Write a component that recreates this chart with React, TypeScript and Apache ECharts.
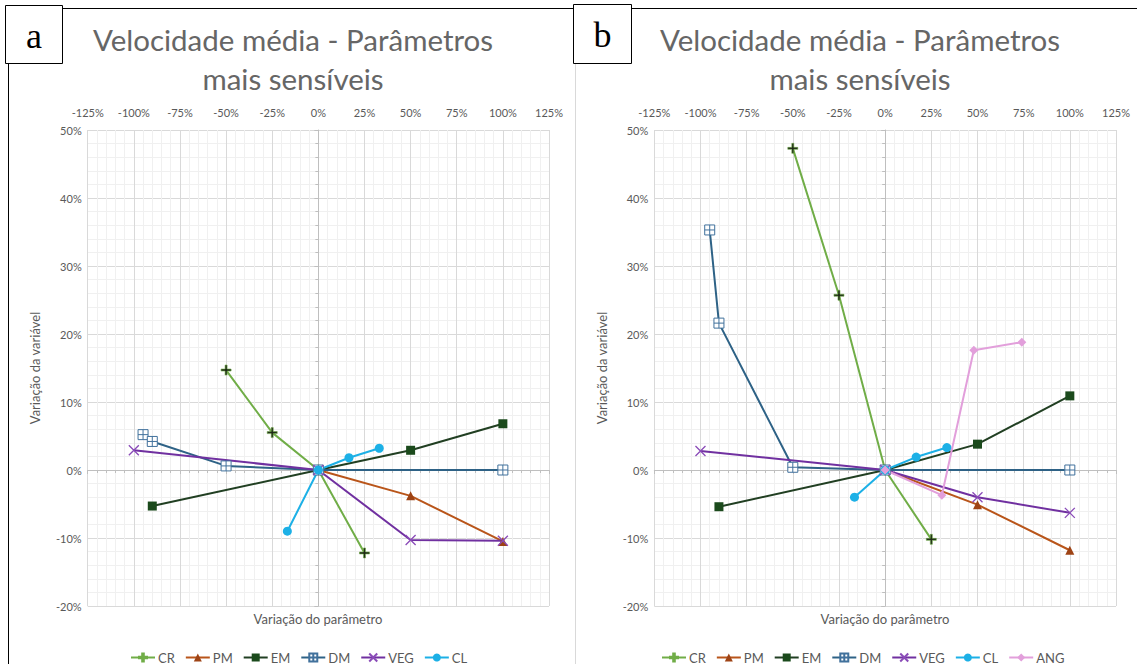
import React, { useEffect, useRef } from "react";
import * as echarts from "echarts";

// ---- data (values in %) ----
const X_MIN = -125, X_MAX = 125, X_INT = 25;
const Y_MIN = -20, Y_MAX = 50, Y_INT = 10;

const legendA = ["CR", "PM", "EM", "DM", "VEG", "CL"];
const legendB = ["CR", "PM", "EM", "DM", "VEG", "CL", "ANG"];

const crA = [[-50, 14.7], [-25, 5.5], [0, 0], [25, -12.2]];
const pmA = [[0, 0], [50, -3.8], [100, -10.5]];
const emA = [[-90, -5.3], [0, 0], [50, 2.9], [100, 6.8]];
const dmA = [[-95, 5.2], [-90, 4.2], [-50, 0.6], [0, 0], [100, 0]];
const vegA = [[-100, 2.9], [0, 0], [50, -10.3], [100, -10.4]];
const clA = [[-16.8, -9.0], [0, 0], [16.6, 1.8], [33, 3.2]];

const crB = [[-50, 47.3], [-25, 25.7], [0, 0], [25, -10.2]];
const pmB = [[0, 0], [50, -5.1], [100, -11.8]];
const emB = [[-90, -5.4], [0, 0], [50, 3.8], [100, 10.9]];
const dmB = [[-95, 35.3], [-90, 21.6], [-50, 0.4], [0, 0], [100, 0]];
const vegB = [[-100, 2.8], [0, 0], [50, -4.0], [100, -6.3]];
const clB = [[-16.6, -4.0], [0, 0], [16.8, 1.9], [33.4, 3.3]];
const angB = [[0, 0], [30.7, -3.7], [48, 17.6], [74, 18.8]];

const titleLine1 = "Velocidade média - Parâmetros";
const titleLine2 = "mais sensíveis";
const xName = "Variação do parâmetro";
const yName = "Variação da variável";

const FONT = "Lato";
const GRAY = "#595959";

const STYLES: Record<string, any> = {
  CR: {
    line: "#70AD47",
    symbol: "path://M4 0H6V4H10V6H6V10H4V6H0V4H4Z",
    size: 10,
    item: { color: "#1f2a18", borderColor: "#70AD47", borderWidth: 0.6 },
  },
  PM: {
    line: "#B9551A",
    symbol: "triangle",
    size: 9,
    item: { color: "#9E4315" },
  },
  EM: {
    line: "#213F22",
    symbol: "rect",
    size: 9,
    item: { color: "#1B4A1C" },
  },
  DM: {
    line: "#2E6286",
    symbol: "path://M0 0H10V10H0ZM5 0V10M0 5H10",
    size: 10,
    item: { color: "#ffffff", borderColor: "#41719C", borderWidth: 1 },
  },
  VEG: {
    line: "#7030A0",
    symbol: "path://M0 0L10 10M10 0L0 10",
    size: 10,
    item: { color: "rgba(0,0,0,0)", borderColor: "#8A4BB8", borderWidth: 1.3 },
  },
  CL: {
    line: "#1CB0E6",
    symbol: "circle",
    size: 9,
    item: { color: "#1CB0E6" },
  },
  ANG: {
    line: "#E29FDB",
    symbol: "diamond",
    size: 9,
    item: { color: "#E29FDB" },
  },
};

function makeSeries(name: string, data: number[][], panel: number) {
  const s = STYLES[name];
  return {
    type: "line",
    name,
    data,
    xAxisIndex: panel * 2,
    yAxisIndex: panel * 2,
    symbol: s.symbol,
    symbolSize: s.size,
    symbolKeepAspect: true,
    showAllSymbol: true,
    lineStyle: { color: s.line, width: 2 },
    itemStyle: s.item,
    emphasis: { disabled: true },
    z: 5,
  };
}

function axesFor(panel: number) {
  const labelStyle = { color: GRAY, fontFamily: FONT, fontSize: 11 };
  const xLabel = {
    type: "value",
    gridIndex: panel,
    min: X_MIN,
    max: X_MAX,
    interval: X_INT,
    position: "top",
    axisLine: { show: false, onZero: false },
    axisTick: { show: false },
    axisLabel: { ...labelStyle, formatter: "{value}%", margin: 12 },
    splitLine: { show: true, lineStyle: { color: "#D9D9D9", width: 1 } },
    minorTick: { show: false, splitNumber: 5 },
    minorSplitLine: { show: true, lineStyle: { color: "#F0F0F0", width: 1 } },
  };
  const xZero = {
    type: "value",
    gridIndex: panel,
    min: X_MIN,
    max: X_MAX,
    interval: X_INT,
    position: "bottom",
    axisLine: { show: true, onZero: true, lineStyle: { color: "#BFBFBF", width: 1 } },
    axisTick: { show: true, length: 4, lineStyle: { color: "#BFBFBF" } },
    minorTick: { show: true, splitNumber: 5, length: 3, lineStyle: { color: "#BFBFBF" } },
    axisLabel: { show: false },
    splitLine: { show: false },
  };
  const yLabel = {
    type: "value",
    gridIndex: panel,
    min: Y_MIN,
    max: Y_MAX,
    interval: Y_INT,
    position: "left",
    axisLine: { show: false, onZero: false },
    axisTick: { show: false },
    axisLabel: { ...labelStyle, formatter: "{value}%", margin: 6 },
    splitLine: { show: true, lineStyle: { color: "#D9D9D9", width: 1 } },
    minorTick: { show: false, splitNumber: 5 },
    minorSplitLine: { show: true, lineStyle: { color: "#F0F0F0", width: 1 } },
    name: yName,
    nameLocation: "middle",
    nameGap: 46,
    nameTextStyle: { color: GRAY, fontFamily: FONT, fontSize: 13 },
  };
  const yZero = {
    type: "value",
    gridIndex: panel,
    min: Y_MIN,
    max: Y_MAX,
    interval: Y_INT,
    position: "left",
    axisLine: { show: true, onZero: true, lineStyle: { color: "#BFBFBF", width: 1 } },
    axisTick: { show: true, length: 4, lineStyle: { color: "#BFBFBF" } },
    minorTick: { show: true, splitNumber: 5, length: 3, lineStyle: { color: "#BFBFBF" } },
    axisLabel: { show: false },
    splitLine: { show: false },
  };
  return { x: [xLabel, xZero], y: [yLabel, yZero] };
}

function titleTexts(cx: number) {
  const st = { fill: "#666666", fontFamily: FONT, fontSize: 29.5, align: "center", verticalAlign: "middle" };
  return [
    { type: "text", x: cx, y: 39, style: { ...st, text: titleLine1 } },
    { type: "text", x: cx, y: 78, style: { ...st, text: titleLine2 } },
  ];
}

function letterBox(x: number, y: number, w: number, h: number, letter: string) {
  return [
    {
      type: "rect",
      shape: { x, y, width: w, height: h },
      style: { fill: "#ffffff", stroke: "#000000", lineWidth: 1 },
      z: 20,
    },
    {
      type: "text",
      x: x + w / 2,
      y: y + h / 2 + 1,
      style: {
        text: letter,
        fill: "#000000",
        fontFamily: "Liberation Serif",
        fontSize: 36,
        align: "center",
        verticalAlign: "middle",
      },
      z: 21,
    },
  ];
}

export default function App() {
  const ref = useRef<HTMLDivElement>(null);

  useEffect(() => {
    if (!ref.current) return;
    const chart = echarts.init(ref.current, undefined, { renderer: "svg" });
    const a = axesFor(0);
    const b = axesFor(1);

    const seriesA = [
      makeSeries("CR", crA, 0),
      makeSeries("PM", pmA, 0),
      makeSeries("EM", emA, 0),
      makeSeries("DM", dmA, 0),
      makeSeries("VEG", vegA, 0),
      makeSeries("CL", clA, 0),
    ];
    const seriesB = [
      makeSeries("CR", crB, 1),
      makeSeries("PM", pmB, 1),
      makeSeries("EM", emB, 1),
      makeSeries("DM", dmB, 1),
      makeSeries("VEG", vegB, 1),
      makeSeries("CL", clB, 1),
      makeSeries("ANG", angB, 1),
    ];

    const legendCommon = {
      orient: "horizontal",
      top: 651,
      padding: 0,
      itemWidth: 24,
      itemHeight: 10,
      itemGap: 10,
      selectedMode: false,
      textStyle: { color: GRAY, fontFamily: FONT, fontSize: 13, padding: [0, 0, 0, -2] },
    };

    chart.setOption({
      animation: false,
      backgroundColor: "#ffffff",
      grid: [
        { left: 87.7, top: 130, width: 461.3, height: 476, containLabel: false },
        { left: 654.3, top: 130, width: 461.7, height: 476, containLabel: false },
      ],
      xAxis: [...a.x, ...b.x],
      yAxis: [...a.y, ...b.y],
      legend: [
        { ...legendCommon, data: legendA, left: 130 },
        { ...legendCommon, data: legendB, left: 661 },
      ],
      series: [...seriesA, ...seriesB],
      graphic: [
        ...titleTexts(293),
        ...titleTexts(860),
        {
          type: "text",
          x: 318,
          y: 619,
          style: { text: xName, fill: GRAY, fontFamily: FONT, fontSize: 13, align: "center", verticalAlign: "middle" },
        },
        {
          type: "text",
          x: 885,
          y: 619,
          style: { text: xName, fill: GRAY, fontFamily: FONT, fontSize: 13, align: "center", verticalAlign: "middle" },
        },
        // frame
        { type: "line", shape: { x1: 8, y1: 8.5, x2: 1137, y2: 8.5 }, style: { stroke: "#000000", lineWidth: 1 }, z: 15 },
        { type: "line", shape: { x1: 8.5, y1: 8, x2: 8.5, y2: 664 }, style: { stroke: "#000000", lineWidth: 1 }, z: 15 },
        { type: "line", shape: { x1: 575.5, y1: 9, x2: 575.5, y2: 664 }, style: { stroke: "#D9D9D9", lineWidth: 1 }, z: 15 },
        ...letterBox(5.5, 5.5, 57, 58, "a"),
        ...letterBox(573.5, 4.5, 58, 59, "b"),
      ],
    });
    return () => chart.dispose();
  }, []);

  return (
    <div
      ref={ref}
      style={{ position: "fixed", left: 0, top: 0, width: 1137, height: 664, background: "#fff" }}
    />
  );
}
